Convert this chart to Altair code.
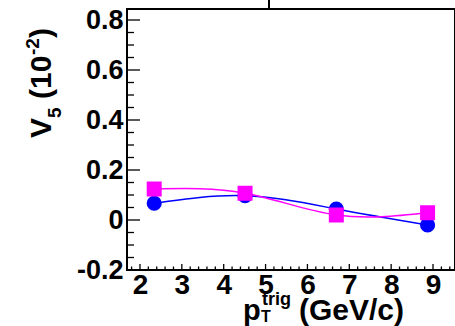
import altair as alt
import pandas as pd

# trigger pT bin centres (GeV/c)
pt_trig = [2.34, 4.51, 6.69, 8.87]
# v5 (x10^-2) for the two series
v5_blue = [0.067, 0.097, 0.044, -0.020]
v5_magenta = [0.124, 0.107, 0.020, 0.029]

# axis tick values
x_major = [2, 3, 4, 5, 6, 7, 8, 9]
x_minor = [round(1.8 + 0.2 * i, 1) for i in range(39) if round(1.8 + 0.2 * i, 1) not in x_major]
y_major = [0.0, 0.2, 0.4, 0.6, 0.8]
y_minor = [round(-0.15 + 0.05 * i, 2) for i in range(20) if round(-0.15 + 0.05 * i, 2) not in y_major]

W, H = 328, 261
FONT = "Liberation Sans"

df = pd.concat([
    pd.DataFrame({"pt": pt_trig, "v5": v5_blue, "series": "blue"}),
    pd.DataFrame({"pt": pt_trig, "v5": v5_magenta, "series": "magenta"}),
])

xs = alt.Scale(domain=[1.69, 9.525], nice=False, zero=False)
ys = alt.Scale(domain=[-0.2, 0.844], nice=False, zero=False)
cs = alt.Scale(domain=["blue", "magenta"], range=["#0000ff", "#ff00ff"])

x_axis = alt.Axis(values=x_major, format="d", title=None, ticks=False, domain=False, grid=False,
                  labelFont=FONT, labelFontWeight="bold", labelFontSize=28, labelColor="black",
                  labelPadding=1, labelFlush=False, labelOverlap=False)
y_axis = alt.Axis(values=[-0.2] + y_major, title=None, ticks=False, domain=False, grid=False,
                  labelExpr="datum.value == 0 ? '0' : (datum.value < 0 ? '-' + format(-datum.value, '.1f') : format(datum.value, '.1f'))",
                  labelFont=FONT, labelFontWeight="bold", labelFontSize=27, labelColor="black",
                  labelPadding=4, labelFlush=False, labelOverlap=False)

X = lambda f: alt.X(f, scale=xs, axis=x_axis)
Y = lambda f: alt.Y(f, scale=ys, axis=y_axis)

lines = alt.Chart(df).mark_line(interpolate="natural", strokeWidth=1.5).encode(
    x=X("pt:Q"), y=Y("v5:Q"),
    color=alt.Color("series:N", scale=cs, legend=None),
    detail="series:N",
)

circles = alt.Chart(df[df.series == "blue"]).mark_point(shape="circle", filled=True, size=230, opacity=1).encode(
    x=X("pt:Q"), y=Y("v5:Q"),
    color=alt.Color("series:N", scale=cs, legend=None),
)
squares = alt.Chart(df[df.series == "magenta"]).mark_point(shape="square", filled=True, size=225, opacity=1).encode(
    x=X("pt:Q"), y=Y("v5:Q"),
    color=alt.Color("series:N", scale=cs, legend=None),
)

# inward-pointing ticks
def xticks(vals, length):
    return alt.Chart(pd.DataFrame({"pt": vals})).mark_rule(color="black", strokeWidth=1.3).encode(
        x=X("pt:Q"), y=alt.value(H), y2=alt.value(H - length))

def yticks(vals, length):
    return alt.Chart(pd.DataFrame({"v5": vals})).mark_rule(color="black", strokeWidth=1.3).encode(
        y=Y("v5:Q"), x=alt.value(0), x2=alt.value(length))

def label(text, x, y, size, angle=0):
    props = dict(font=FONT, fontWeight="bold", fontSize=size, color="black",
                 align="left", baseline="alphabetic")
    if angle:
        props["angle"] = angle
    return alt.Chart(alt.Data(values=[{"k": 1}])).mark_text(**props).encode(
        x=alt.value(x), y=alt.value(y), text=alt.value(text))

texts = [
    # y title: v_5 (10^-2), rotated
    label("V", -76, 129, 30, 270),
    label("5", -66, 109, 19, 270),
    label("(10", -76, 90, 30, 270),
    label("-2", -88, 46, 19, 270),
    label(")", -76, 29, 30, 270),
    # x title: p_T^trig (GeV/c)
    label("p", 116, 311, 29),
    label("trig", 135, 296, 18),
    label("T", 134, 313, 16),
    label("(GeV/c)", 172, 311, 30),
]

top_mark = alt.Chart(alt.Data(values=[{"k": 1}])).mark_rule(color="black", strokeWidth=2).encode(
    x=alt.value(142), y=alt.value(-9), y2=alt.value(0))

chart = alt.layer(
    lines, circles, squares,
    xticks(x_major, 6), xticks(x_minor, 3.5),
    yticks(y_major, 13), yticks(y_minor, 7),
    top_mark, *texts,
).properties(
    width=W, height=H,
    autosize=alt.AutoSizeParams(type="none"),
    padding={"left": 127, "top": 9, "right": 0, "bottom": 56},
    background="white",
).configure_view(stroke="black", strokeWidth=2)

chart.save("out.html", embed_options={"renderer": "svg", "actions": False})
